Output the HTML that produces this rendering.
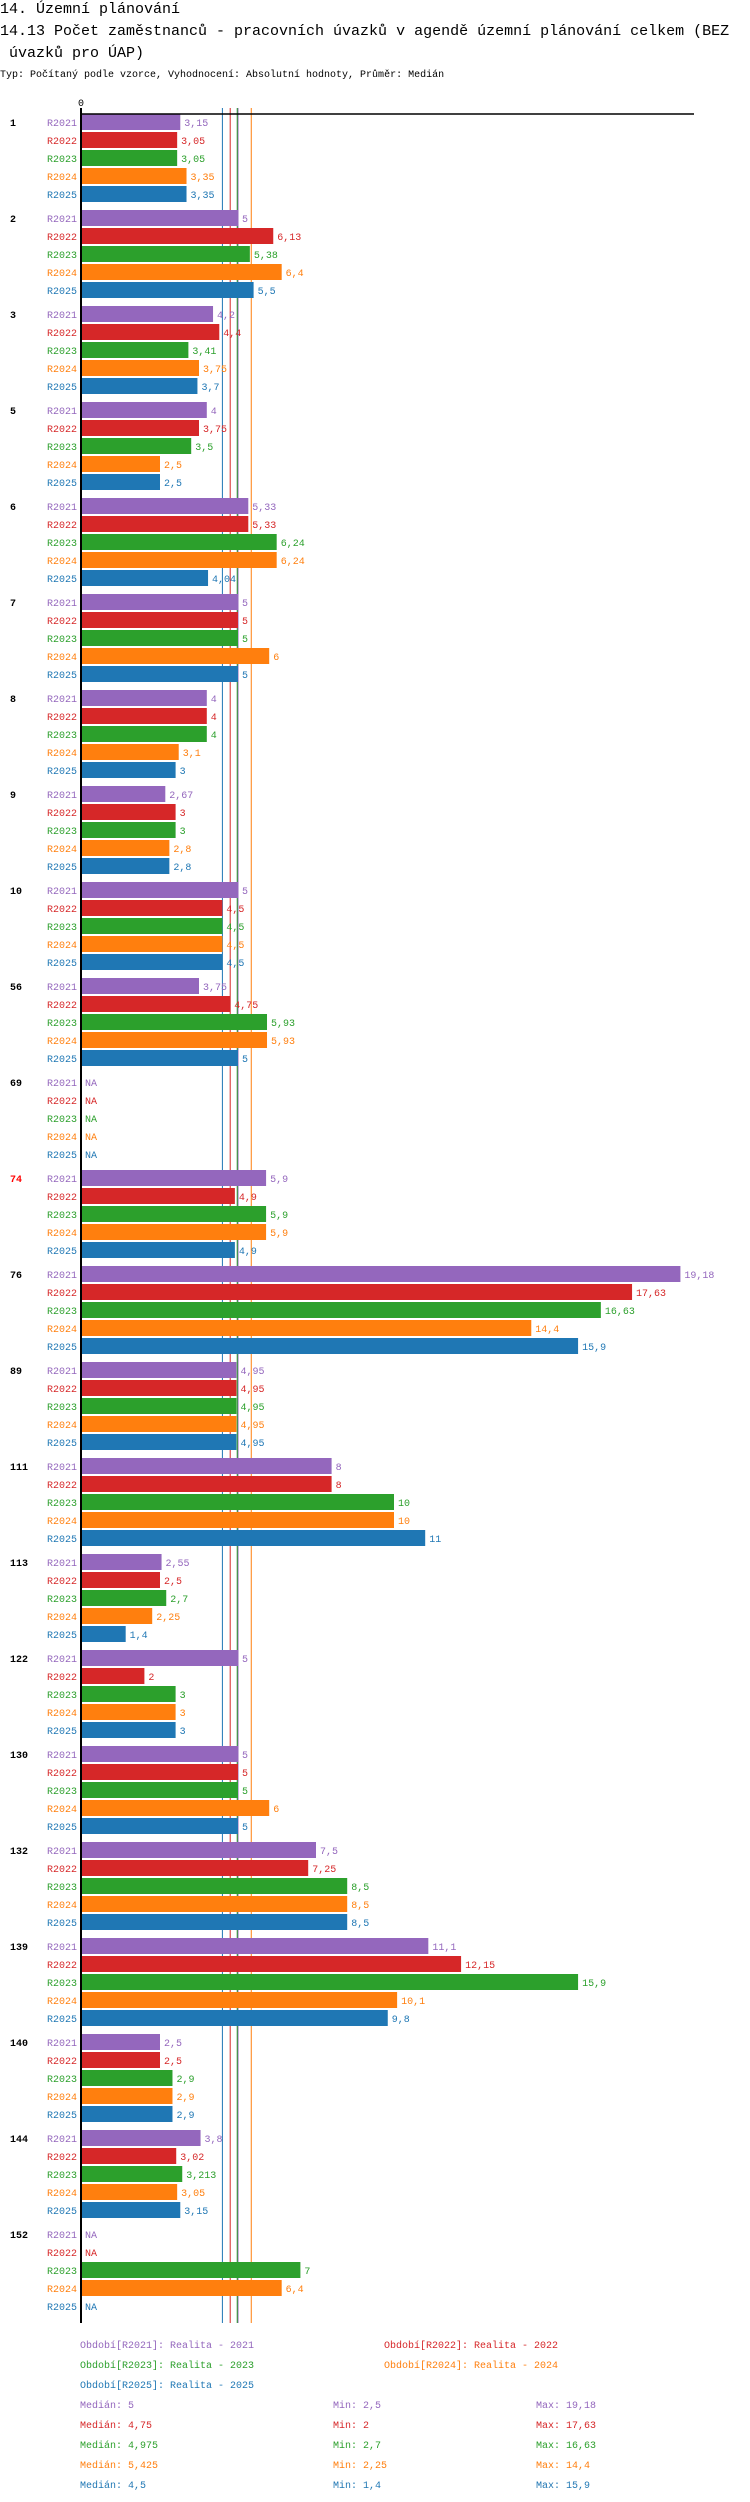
<!DOCTYPE html>
<html><head><meta charset="utf-8">
<style>
html,body{margin:0;padding:0;background:#fff;}
svg{display:block;}
text{font-family:"Liberation Mono","DejaVu Sans Mono",monospace;}
</style></head>
<body>
<svg id="chart" xmlns="http://www.w3.org/2000/svg" width="750" height="2502" viewBox="0 0 750 2502">
<g>
<text x="0" y="13" font-size="15">14. Územní plánování</text>
<text x="0" y="35" font-size="15">14.13 Počet zaměstnanců - pracovních úvazků v agendě územní plánování celkem (BEZ</text>
<text x="9" y="57" font-size="15">úvazků pro ÚAP)</text>
<text x="0" y="77" font-size="10">Typ: Počítaný podle vzorce, Vyhodnocení: Absolutní hodnoty, Průměr: Medián</text>
</g>
<g id="lines"></g>
<g id="bars"></g>
<g id="legend"></g>
</svg>
<script>
const groups = ["1","2","3","5","6","7","8","9","10","56","69","74","76","89","111","113","122","130","132","139","140","144","152"];
const series = ["R2021","R2022","R2023","R2024","R2025"];
const v2021 = [3.15,5,4.2,4,5.33,5,4,2.67,5,3.75,null,5.9,19.18,4.95,8,2.55,5,5,7.5,11.1,2.5,3.8,null];
const v2022 = [3.05,6.13,4.4,3.75,5.33,5,4,3,4.5,4.75,null,4.9,17.63,4.95,8,2.5,2,5,7.25,12.15,2.5,3.02,null];
const v2023 = [3.05,5.38,3.41,3.5,6.24,5,4,3,4.5,5.93,null,5.9,16.63,4.95,10,2.7,3,5,8.5,15.9,2.9,3.213,7];
const v2024 = [3.35,6.4,3.75,2.5,6.24,6,3.1,2.8,4.5,5.93,null,5.9,14.4,4.95,10,2.25,3,6,8.5,10.1,2.9,3.05,6.4];
const v2025 = [3.35,5.5,3.7,2.5,4.04,5,3,2.8,4.5,5,null,4.9,15.9,4.95,11,1.4,3,5,8.5,9.8,2.9,3.15,null];
const medians = [5,4.75,4.975,5.425,4.5];
const mins = ["2,5","2","2,7","2,25","1,4"];
const maxs = ["19,18","17,63","16,63","14,4","15,9"];
const medianLabels = ["5","4,75","4,975","5,425","4,5"];
const legendNames = ["Realita - 2021","Realita - 2022","Realita - 2023","Realita - 2024","Realita - 2025"];
const highlighted = ["74"];

const allValues = [v2021,v2022,v2023,v2024,v2025];
const colors = ["#9467bd","#d62728","#2ca02c","#ff7f0e","#1f77b4"];
const NS = "http://www.w3.org/2000/svg";
const X0 = 82, SCALE = 31.2;
function xs(v){ return X0 + v*SCALE; }
function groupTop(i){ return 114 + 96*i; }
function rowTop(i,s){ return groupTop(i) + 18*s; }
function fmt(v){ return String(v).replace('.',','); }
function mk(tag, attrs, parent){
  const e = document.createElementNS(NS, tag);
  for (const k in attrs) e.setAttribute(k, attrs[k]);
  parent.appendChild(e);
  return e;
}
const svg = document.getElementById('chart');
const linesG = document.getElementById('lines');
const barsG = document.getElementById('bars');
const legG = document.getElementById('legend');
const bottom = groupTop(groups.length-1) + 18*5 + 7;

medians.forEach((m,s)=>{
  const l = mk('line',{x1:xs(m),x2:xs(m),y1:108,y2:bottom,stroke:colors[s],'stroke-width':1},linesG);
  
  
});

const ax = mk('line',{x1:80,x2:694,y1:114,y2:114,stroke:'#000','stroke-width':1.5},svg);


const ay = mk('line',{x1:81,x2:81,y1:108,y2:bottom,stroke:'#000','stroke-width':2},svg);


const t0 = mk('text',{x:81,y:106,'font-size':10,'text-anchor':'middle'},svg);
t0.textContent = '0';



groups.forEach((g,i)=>{
  const gl = mk('text',{x:10,y:groupTop(i)+12,'font-size':10,'font-weight':'bold',fill:highlighted.includes(g)?'#ff0000':'#000'},barsG);
  gl.textContent = g;
  
  
  series.forEach((s,k)=>{
    const y = rowTop(i,k);
    const v = allValues[k][i];
    const rl = mk('text',{x:77,y:y+12,'font-size':10,'text-anchor':'end',fill:colors[k]},barsG);
    rl.textContent = s;
    
    
    if (v === null) {
      const na = mk('text',{x:85,y:y+12,'font-size':10,fill:colors[k]},barsG);
      na.textContent = 'NA';
      
      
      return;
    }
    const b = mk('rect',{x:X0,y:y,width:Math.max(0,xs(v)-X0),height:16,fill:colors[k]},barsG);
    
    
    const vl = mk('text',{x:xs(v)+4,y:y+12,'font-size':10,fill:colors[k]},barsG);
    vl.textContent = fmt(v);
    
    
  });
});

const legPos = [[80,2348],[384,2348],[80,2368],[384,2368],[80,2388]];
series.forEach((s,k)=>{
  const t = mk('text',{x:legPos[k][0],y:legPos[k][1],'font-size':10,fill:colors[k]},legG);
  t.textContent = 'Období[' + s + ']: ' + legendNames[k];
  
  
  const y = 2408 + 20*k;
  const a = mk('text',{x:80,y:y,'font-size':10,fill:colors[k]},legG);
  a.textContent = 'Medián: ' + medianLabels[k];
  
  
  const b = mk('text',{x:333,y:y,'font-size':10,fill:colors[k]},legG);
  b.textContent = 'Min: ' + mins[k];
  
  
  const c = mk('text',{x:536,y:y,'font-size':10,fill:colors[k]},legG);
  c.textContent = 'Max: ' + maxs[k];
  
  
});
</script>
</body></html>
